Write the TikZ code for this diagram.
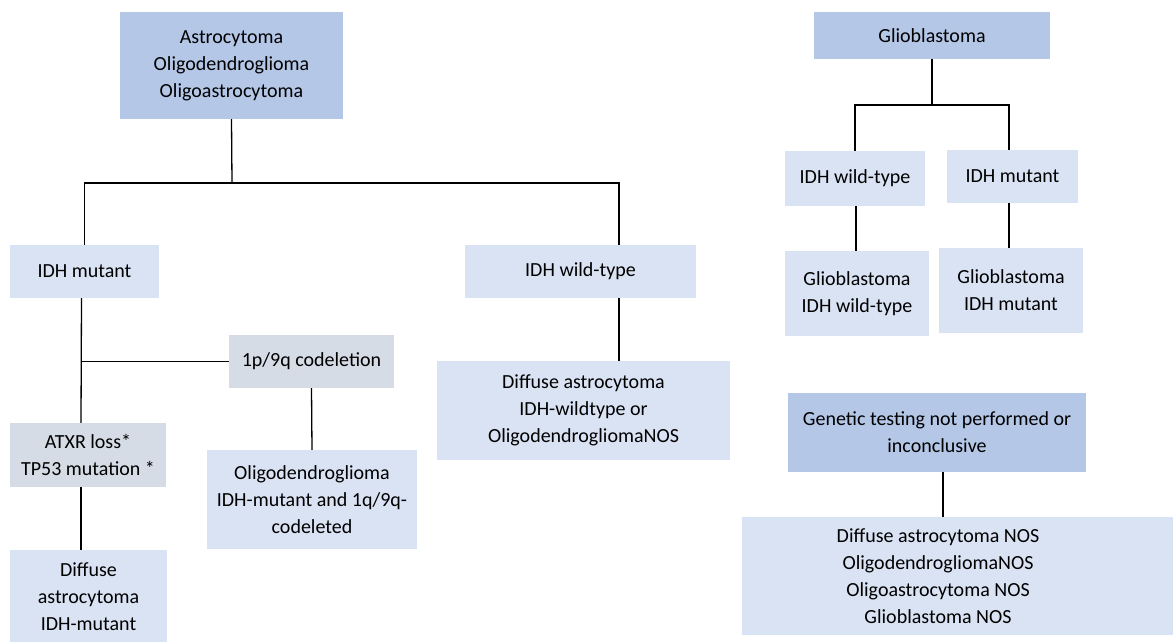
\documentclass[tikz,border=0pt]{standalone}
\usepackage{fontspec}
\setmainfont{Carlito}
\usepackage{tikz}
\usetikzlibrary{calc}
\definecolor{headblue}{HTML}{B4C7E7}
\definecolor{leafblue}{HTML}{DAE3F3}
\definecolor{testgray}{HTML}{D6DCE5}

\begin{document}
\begin{tikzpicture}[x=1pt,y=-1pt,
  box/.style={rectangle,inner sep=0pt,align=center,font=\fontsize{20}{27}\selectfont},
  head/.style={box,fill=headblue},
  leaf/.style={box,fill=leafblue},
  test/.style={box,fill=testgray},
  link/.style={line width=1.3pt}]
\useasboundingbox (0,0) rectangle (1173,641);
\node[head,minimum width=223,minimum height=107] (top) at (231.5,65.5) {Astrocytoma\\Oligodendroglioma\\Oligoastrocytoma};
\node[leaf,minimum width=149,minimum height=53] (idhmut) at (84.5,271.5) {IDH mutant};
\node[leaf,minimum width=231,minimum height=53] (idhwt) at (580.5,271.5) {IDH wild-type};
\node[test,minimum width=165,minimum height=53] (codel) at (311.5,361.5) {1p/9q codeletion};
\node[test,minimum width=156,minimum height=64] (atxr) at (88,455) {ATXR loss*\\TP53 mutation *};
\node[leaf,minimum width=210,minimum height=99] (oligo) at (312,499.5) {Oligodendroglioma\\IDH-mutant and 1q/9q-\\codeleted};
\node[leaf,minimum width=157,minimum height=93] (diffmut) at (88.5,596.5) {Diffuse\\astrocytoma\\IDH-mutant};
\node[leaf,minimum width=293,minimum height=99] (diffwt) at (583.5,410.5) {Diffuse astrocytoma\\IDH-wildtype or\\OligodendrogliomaNOS};
\node[head,minimum width=236,minimum height=47] (glio) at (932,35.5) {Glioblastoma};
\node[leaf,minimum width=140,minimum height=55] (gwt) at (855,178.5) {IDH wild-type};
\node[leaf,minimum width=131,minimum height=53] (gmut) at (1012.5,176.5) {IDH mutant};
\node[leaf,minimum width=144,minimum height=85] (gwtres) at (857,293.5) {Glioblastoma\\IDH wild-type};
\node[leaf,minimum width=144,minimum height=85] (gmutres) at (1011,290.5) {Glioblastoma\\IDH mutant};
\node[head,minimum width=298,minimum height=79] (gen) at (937,432.5) {Genetic testing not performed or\\inconclusive};
\node[leaf,minimum width=431,minimum height=118] (nos) at (957.5,576) {};
\node[box] (nostext) at (938,576) {Diffuse astrocytoma NOS\\OligodendrogliomaNOS\\Oligoastrocytoma NOS\\Glioblastoma NOS};
\coordinate (split) at (232,183);
\coordinate (gsplit) at (932,105);
\draw[link] (top.south) -- (split);
\draw[link] (idhmut.north) |- (split) -| ([xshift=38.5pt]idhwt.north);
\draw[link] ([xshift=38.5pt]idhwt.south) -- ([xshift=38.5pt]idhwt.south |- diffwt.north);
\draw[link] ([xshift=-3pt]idhmut.south) -- ([xshift=-7pt]atxr.north);
\draw[link] ([xshift=-3pt]idhmut.south |- codel.west) -- (codel.west);
\draw[link] (codel.south) -- (oligo.north);
\draw[link] ([xshift=-7pt]atxr.south) -- ([xshift=-7pt]atxr.south |- diffmut.north);
\draw[link] (glio.south) -- (gsplit);
\draw[link] (gwt.north) |- (gsplit) -| ([xshift=-3.5pt]gmut.north);
\draw[link] ([xshift=1pt]gwt.south) -- ([xshift=1pt]gwt.south |- gwtres.north);
\draw[link] ([xshift=-3.5pt]gmut.south) -- ([xshift=-3.5pt]gmut.south |- gmutres.north);
\draw[link] ([xshift=6pt]gen.south) -- ([xshift=6pt]gen.south |- nos.north);
\end{tikzpicture}
\end{document}
